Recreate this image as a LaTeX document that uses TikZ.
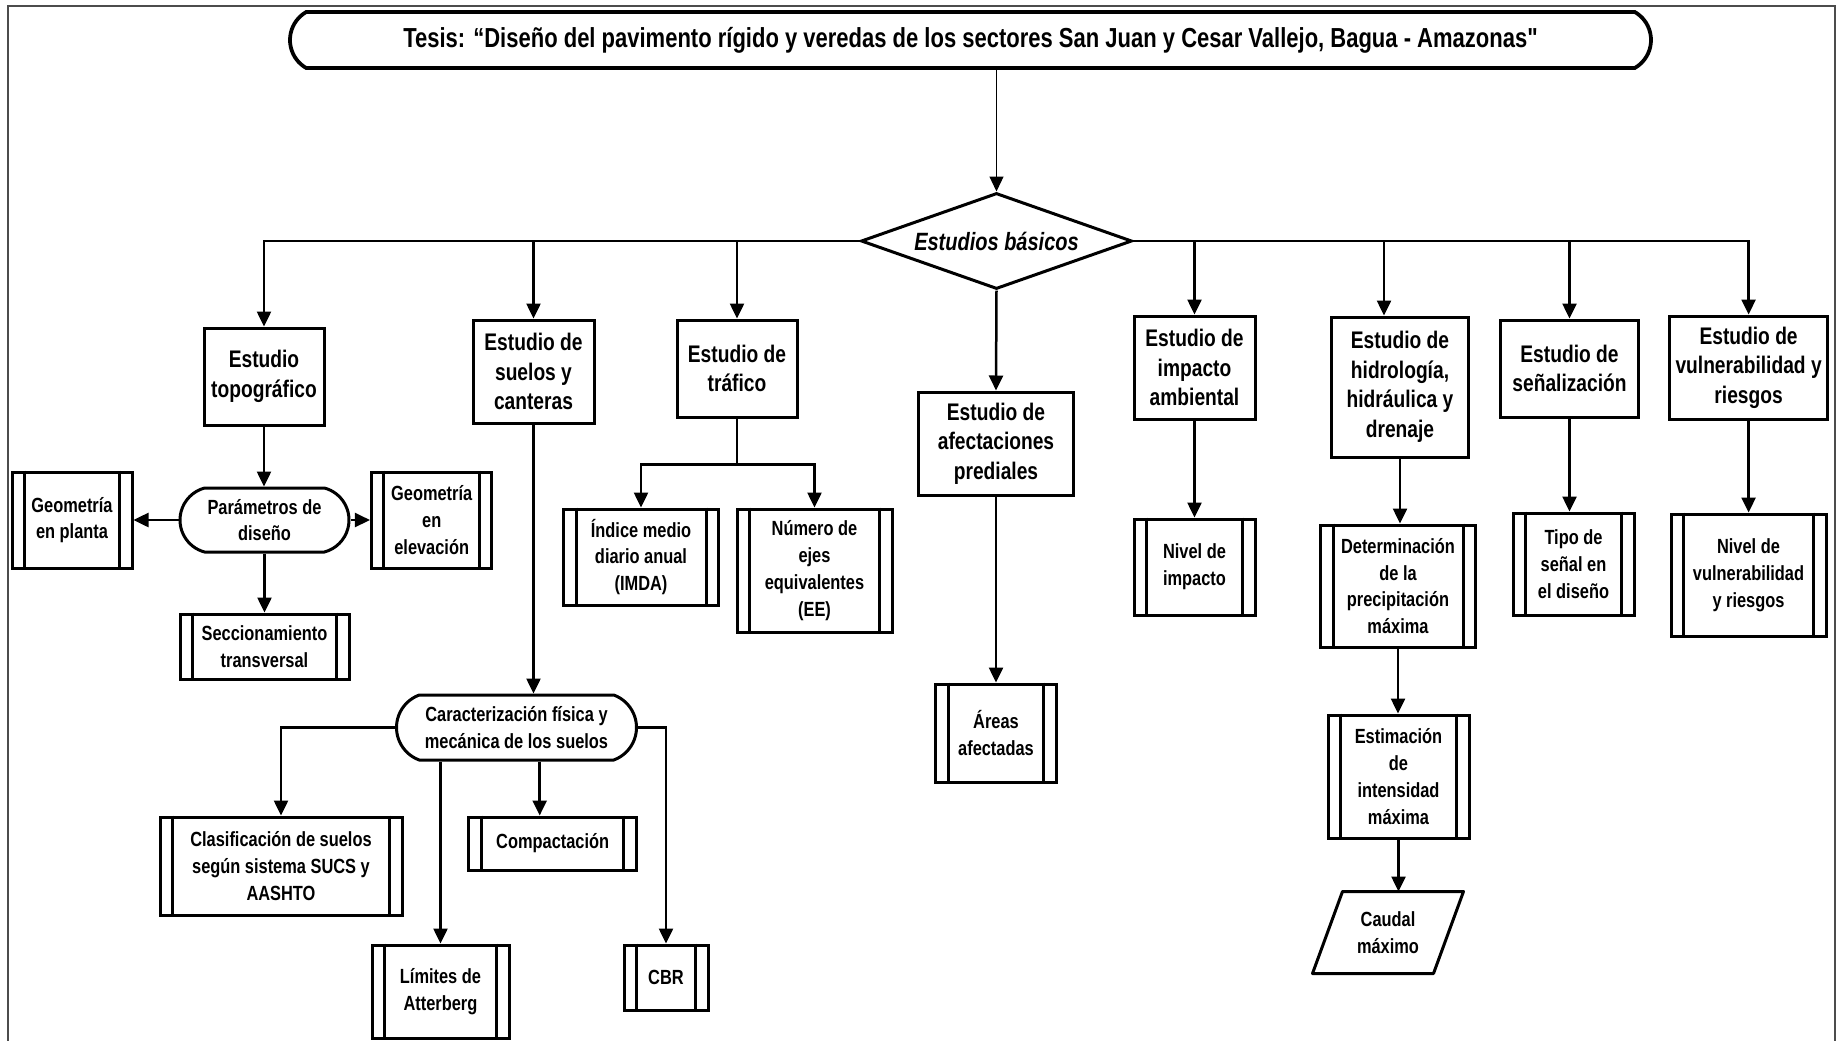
\documentclass[tikz,border=0pt]{standalone}
\usepackage{fontspec}
\setmainfont{Liberation Sans}[FakeStretch=0.8]
\usetikzlibrary{arrows.meta,shapes.geometric,shapes.misc,calc}
\newcommand\myBig{\fontsize{9.6}{11.8}\selectfont\bfseries}
\newcommand\mySmall{\fontsize{8.2}{10.7}\selectfont\bfseries}
\newcommand\myTitle{\fontsize{11}{12}\selectfont\bfseries}
\newcommand\myDia{\fontsize{10}{12}\selectfont\bfseries\itshape}
\newcommand\straightq{{\addfontfeatures{Ligatures=TeXOff}"}}
\begin{document}
\begin{tikzpicture}[x=0.4pt,y=-0.4pt,
  wh/.style 2 args={minimum width=#1*0.4pt, minimum height=#2*0.4pt},
  mbox/.style={draw, rectangle, line width=1.2pt, inner sep=0pt, align=center, font=\myBig},
  sbox/.style={draw, rectangle, line width=1.2pt, inner sep=0pt, align=center, font=\mySmall},
  conn/.style={line width=1pt, -{Triangle[length=6pt,width=5.6pt]}},
  plain/.style={line width=1pt},
  thinconn/.style={line width=0.5pt, -{Triangle[length=6pt,width=5.6pt]}}]
\useasboundingbox (0,0) rectangle (1836,1041);
\draw[black!70, line width=0.8pt] (8,1041) -- (8,6) -- (1835,6) -- (1835,1041);

% title and decision
\node[draw, line width=1.5pt, rounded rectangle, rounded rectangle arc length=120, inner sep=0pt, wh={1361}{56}, font=\myTitle] (title) at (970.5,40) {\raisebox{-2pt}{Tesis: “Diseño del pavimento rígido y veredas de los sectores San Juan y Cesar Vallejo, Bagua - Amazonas\straightq}};
\node[draw, diamond, aspect=2.8, line width=1.2pt, inner sep=0pt, wh={271}{96}, font=\myDia] (dia) at (996.5,241) {Estudios básicos};

% main studies
\node[mbox, wh={120}{97}] (topo) at (264,376.5) {Estudio\\topográfico};
\node[mbox, wh={121}{103}] (suelos) at (533.5,371.5) {Estudio de\\suelos y\\canteras};
\node[mbox, wh={120}{97}] (traf) at (737,368.5) {Estudio de\\tráfico};
\node[mbox, wh={155}{103}] (afect) at (996,443.5) {Estudio de\\afectaciones\\prediales};
\node[mbox, wh={121}{103}] (impa) at (1194.5,367.5) {Estudio de\\impacto\\ambiental};
\node[mbox, wh={137.5}{140}] (hidro) at (1400,387) {Estudio de\\hidrología,\\hidráulica y\\drenaje};
\node[mbox, wh={138}{97}] (senal) at (1569.5,368.5) {Estudio de\\señalización};
\node[mbox, wh={158}{103}] (vuln) at (1748.6,367.5) {Estudio de\\vulnerabilidad y\\riesgos};

% topography
\node[sbox, rounded rectangle, rounded rectangle arc length=150, wh={169}{64}] (param) at (264.5,520) {Parámetros de\\diseño};
\node[sbox, wh={120}{96}] (planta) at (72,520) {Geometría\\en planta};
\node[sbox, wh={120.5}{96}] (elev) at (431.7,520) {Geometría\\en\\elevación};
\node[sbox, wh={169}{65}] (secc) at (264.5,646.5) {Seccionamiento\\transversal};

% soils
\node[sbox, rounded rectangle, rounded rectangle arc length=140, wh={240}{65}] (carac) at (516.5,727.5) {Caracterización física y\\mecánica de los suelos};
\node[sbox, wh={242}{98}] (clasif) at (281,866) {Clasificación de suelos\\según sistema SUCS y\\AASHTO};
\node[sbox, wh={137}{93}] (limi) at (440.5,991.5) {Límites de\\Atterberg};
\node[sbox, wh={167.5}{53}] (compa) at (552.7,843.5) {Compactación};
\node[sbox, wh={84}{65}] (cbr) at (666,977.5) {CBR};

% traffic
\node[sbox, wh={155}{96}] (indice) at (641,557) {Índice medio\\diario anual\\(IMDA)};
\node[sbox, wh={155}{123}] (numero) at (814.5,570.5) {Número de\\ejes\\equivalentes\\(EE)};

% others
\node[sbox, wh={120.5}{98}] (areas) at (996,733) {Áreas\\afectadas};
\node[sbox, wh={121}{96}] (nivimp) at (1194.5,567) {Nivel de\\impacto};
\node[sbox, wh={155}{122}] (determ) at (1398,586) {Determinación\\de la\\precipitación\\máxima};
\node[sbox, wh={141}{123}] (estim) at (1398.5,776.5) {Estimación\\de\\intensidad\\máxima};
\node[inner sep=0pt, align=center, font=\mySmall, wh={120}{81}] (caudal) at (1388,932.5) {Caudal\\máximo};
\draw[line width=1.2pt, line join=round] ($(caudal.north west)+(15,0)$) -- ($(caudal.north east)+(15,0)$) -- ($(caudal.south east)+(-15,0)$) -- ($(caudal.south west)+(-15,0)$) -- cycle;
\node[sbox, wh={121}{102}] (tipo) at (1573.5,564) {Tipo de\\señal en\\el diseño};
\node[sbox, wh={155}{122}] (nivvul) at (1748.5,575) {Nivel de\\vulnerabilidad\\y riesgos};

% subprocess inner bars
\foreach \n in {planta,elev,secc,clasif,limi,compa,cbr,indice,numero,areas,nivimp,determ,estim,tipo,nivvul}{
  \draw[line width=1.2pt] ($(\n.north west)+(14,0)$) -- ($(\n.south west)+(14,0)$);
  \draw[line width=1.2pt] ($(\n.north east)+(-14,0)$) -- ($(\n.south east)+(-14,0)$);
}

% connectors
\draw[thinconn] (title.south -| dia.north) -- (dia.north);
\draw[conn] (dia.west) -| (topo.north);
\draw[conn] (dia.west) -| (suelos.north);
\draw[conn] (dia.west) -| (traf.north);
\draw[conn] (dia.south) -- (afect.north);
\draw[conn] (dia.east) -| (impa.north);
\coordinate (hin) at ($(hidro.north)+(-16,0)$);
\draw[conn] (dia.east) -| (hin);
\draw[conn] (dia.east) -| (senal.north);
\draw[conn] (dia.east) -| (vuln.north);

\draw[conn] (topo.south) -- (topo.south |- param.north);
\draw[conn] (param.west) -- (planta.east);
\draw[conn] (param.east) -- (elev.west);
\draw[conn] (param.south) -- (param.south |- secc.north);

\draw[conn] (suelos.south) -- (suelos.south |- carac.north);
\draw[conn] (carac.west) -| (clasif.north);
\draw[conn] (carac.east) -| (cbr.north);
\draw[conn] (carac.south -| limi.north) -- (limi.north);
\coordinate (cin) at ($(compa.north)+(-13,0)$);
\draw[conn] (carac.south -| cin) -- (cin);

\coordinate (tj) at ($(traf.south)+(0,46)$);
\draw[plain] (traf.south) -- (tj);
\draw[conn] (tj) -| (indice.north);
\draw[conn] (tj) -| (numero.north);

\draw[conn] (afect.south) -- (areas.north);
\draw[conn] (impa.south) -- (impa.south |- nivimp.north);
\draw[conn] (hidro.south) -- (hidro.south |- determ.north);
\draw[conn] (determ.south) -- (determ.south |- estim.north);
\draw[conn] (estim.south) -- (estim.south |- caudal.north);
\draw[conn] (senal.south) -- (senal.south |- tipo.north);
\draw[conn] (vuln.south) -- (vuln.south |- nivvul.north);
\end{tikzpicture}
\end{document}
